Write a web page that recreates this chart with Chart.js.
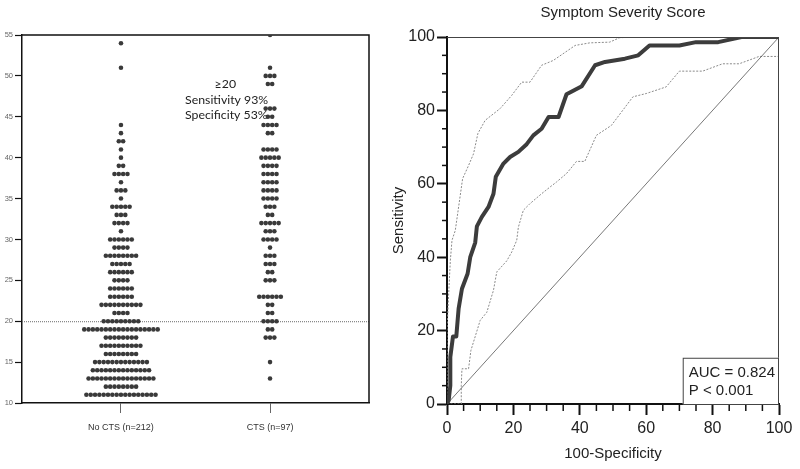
<!DOCTYPE html>
<html><head><meta charset="utf-8">
<script src="https://cdn.jsdelivr.net/npm/chart.js@4"></script>
<style>
html,body{margin:0;padding:0;background:#fff;width:800px;height:469px;overflow:hidden}
canvas{position:absolute;top:0}
#c1{left:0}
#c2{left:385px}
</style></head><body>
<canvas id="c1" width="385" height="469"></canvas>
<canvas id="c2" width="415" height="469"></canvas>
<script>
// ---------- Left panel data (dot plot) ----------
const groups = ['No CTS (n=212)', 'CTS (n=97)'];
const noCtsScores = [11,12,13,14,15,16,17,18,19,20,21,22,23,24,25,26,27,28,29,30,31,32,33,34,35,36,37,38,39,40,41,42,43,44,51,54];
const noCtsCounts = [17,8,16,14,13,8,10,8,18,9,4,10,6,6,4,6,5,8,4,6,1,4,3,5,1,3,1,4,2,1,1,2,1,1,1,1];
const ctsScores = [13,15,18,19,20,21,22,23,25,26,27,28,29,30,31,32,33,34,35,36,37,38,39,40,41,43,44,45,46,49,50,51,55];
const ctsCounts = [1,1,3,2,4,2,2,6,3,2,3,3,1,4,3,5,2,3,4,4,4,4,4,5,4,2,4,2,3,2,3,1,1];
const leftYTicks = [10,15,20,25,30,35,40,45,50,55];
const cutoff = 20;
const annotLines = ['\u226520', 'Sensitivity 93%', 'Specificity 53%'];

// ---------- Right panel data (ROC) ----------
const rocX = [0,0.5,1,1,1.8,2.8,3.5,4.5,6.2,7,8.5,9,10.5,12.5,14,14.7,17,19,21.5,24,26,28.5,30.6,33.6,36,40.6,44.6,47.6,53.6,57.6,61,70,75,81.7,88.7,100];
const rocY = [0,1,5,12.8,18.4,18.4,26,31.4,35.5,40,44,48.4,51,53.7,57.3,61.9,65.5,67.3,68.7,70.8,73.2,75,78.2,78.2,84.4,86.6,92.3,93.2,94.1,95,97.7,97.7,98.6,98.6,100,100];
const upperX = [0,0,0.5,1,1.5,2.5,3.5,4.7,6.5,8,9.3,11.5,16,19.5,22.5,25,28.5,32,38.6,43,49,52,56,100];
const upperY = [0,20,30,39,44.6,47.3,53.7,61.4,65,68.2,73.7,77.3,80.5,84.1,87.7,87.7,92.3,93.6,97.7,98.4,98.6,99.8,100,100];
const lowerX = [0,4.3,4.3,4.5,6.5,7.2,10,12,14,15,18,19.5,21,21.5,23,25,28.5,31,33,36,39,41.5,45,49.5,56,60,66,70,77,83,88,94,100,100];
const lowerY = [0,0,5,9.6,9.6,14.6,22.8,25,31,36,39,41.4,44.6,48.2,52.8,54.6,57.3,59.1,60.5,62.8,66.1,66.1,73.2,75.9,83.7,84.6,86.4,90.7,90.7,92.7,92.7,94.7,94.7,100];
const rocTicks = [0,20,40,60,80,100];
const aucText = ['AUC = 0.824', 'P < 0.001'];
const rocTitle = 'Symptom Severity Score';

// ---------- helpers ----------
const DOT_STEP = 0.029; // horizontal spacing between stacked dots (x units)
function swarm(scores, counts, gi){
  const pts = [];
  scores.forEach((s, k) => {
    const n = counts[k];
    for (let j = 0; j < n; j++) pts.push({x: gi + (j - (n - 1) / 2) * DOT_STEP, y: s});
  });
  return pts;
}
const zip = (xs, ys) => xs.map((x, i) => ({x, y: ys[i]}));
const SANS = 'Arial, "Liberation Sans", sans-serif';

// ---------- Left chart ----------
const leftDeco = {
  id: 'leftDeco',
  beforeDatasetsDraw(chart){
    const {ctx, chartArea: a, scales: {x, y}} = chart;
    ctx.save();
    const py = y.getPixelForValue(cutoff);
    ctx.strokeStyle = '#6a6a6a'; ctx.lineWidth = 1; ctx.setLineDash([1,1]);
    ctx.beginPath(); ctx.moveTo(a.left, py + 0.5); ctx.lineTo(a.right, py + 0.5); ctx.stroke();
    ctx.setLineDash([]);
    ctx.strokeStyle = '#111'; ctx.lineWidth = 1.5;
    ctx.beginPath(); ctx.moveTo(a.left, a.top); ctx.lineTo(a.right, a.top); ctx.lineTo(a.right, a.bottom); ctx.stroke();
    ctx.fillStyle = '#222'; ctx.font = '12.3px Lato, "Open Sans", sans-serif'; ctx.textBaseline = 'middle';
    ctx.textAlign = 'center';
    ctx.fillText(annotLines[0], x.getPixelForValue(0.70), y.getPixelForValue(49.0));
    ctx.textAlign = 'left';
    ctx.fillText(annotLines[1], x.getPixelForValue(0.43), y.getPixelForValue(47.0));
    ctx.fillText(annotLines[2], x.getPixelForValue(0.43), y.getPixelForValue(45.2));
    ctx.restore();
  }
};

new Chart(document.getElementById('c1'), {
  type: 'scatter',
  data: { datasets: [
    { data: swarm(noCtsScores, noCtsCounts, 0) },
    { data: swarm(ctsScores, ctsCounts, 1) }
  ]},
  options: {
    responsive: false, animation: false, devicePixelRatio: 1,
    layout: { padding: { top: 35, right: 16, left: 0, bottom: 0 } },
    elements: { point: { radius: 2.3, hoverRadius: 2.3, backgroundColor: '#3a3a3a', borderWidth: 0 } },
    plugins: { legend: { display: false }, tooltip: { enabled: false } },
    scales: {
      x: {
        type: 'linear', min: -0.664, max: 1.664,
        afterBuildTicks: s => { s.ticks = groups.map((g, i) => ({ value: i })); },
        afterFit: s => { s.height = 66; },
        ticks: { callback: v => groups[v], color: '#333', padding: 9, maxRotation: 0,
                 font: { family: '"Liberation Sans Narrow", "Arial Narrow", Arial, sans-serif', size: 9 } },
        grid: { drawOnChartArea: false, tickLength: 10, tickColor: '#666', tickWidth: 1 },
        border: { color: '#111', width: 1.5 }
      },
      y: {
        min: 10, max: 55,
        afterBuildTicks: s => { s.ticks = leftYTicks.map(v => ({ value: v })); },
        afterFit: s => { s.width = 22; },
        ticks: { color: '#666', padding: 2,
                 font: { family: '"Liberation Sans Narrow", "Arial Narrow", Arial, sans-serif', size: 7.5 } },
        grid: { drawOnChartArea: false, tickLength: 7, tickColor: '#111', tickWidth: 1.2 },
        border: { color: '#111', width: 1.5 }
      }
    }
  },
  plugins: [leftDeco]
});

// ---------- Right chart ----------
const rightDeco = {
  id: 'rightDeco',
  afterDraw(chart){
    const {ctx, chartArea: a, scales: {x, y}} = chart;
    ctx.save();
    ctx.strokeStyle = '#444'; ctx.lineWidth = 1;
    ctx.beginPath(); ctx.moveTo(a.left, a.top + 0.5); ctx.lineTo(a.right - 0.5, a.top + 0.5); ctx.lineTo(a.right - 0.5, a.bottom); ctx.stroke();
    ctx.strokeStyle = '#111'; ctx.lineWidth = 1.5;
    for (let v = 5; v < 100; v += 5) {
      if (v % 20 === 0) continue;
      const px = x.getPixelForValue(v);
      ctx.beginPath(); ctx.moveTo(px, a.bottom); ctx.lineTo(px, a.bottom + 7); ctx.stroke();
      const py = y.getPixelForValue(v);
      ctx.beginPath(); ctx.moveTo(a.left - 5, py); ctx.lineTo(a.left, py); ctx.stroke();
    }
    const bx0 = x.getPixelForValue(71.0), bx1 = x.getPixelForValue(100);
    const by0 = y.getPixelForValue(12.6), by1 = y.getPixelForValue(0);
    ctx.fillStyle = '#fff'; ctx.fillRect(bx0, by0, bx1 - bx0, by1 - by0);
    ctx.strokeStyle = '#444'; ctx.lineWidth = 1;
    ctx.strokeRect(bx0 + 0.5, by0 + 0.5, bx1 - bx0 - 1, by1 - by0);
    ctx.fillStyle = '#222'; ctx.font = '15px ' + SANS;
    ctx.textAlign = 'left'; ctx.textBaseline = 'middle';
    ctx.fillText(aucText[0], bx0 + 6, y.getPixelForValue(8.6));
    ctx.fillText(aucText[1], bx0 + 6, y.getPixelForValue(3.7));
    ctx.textAlign = 'center';
    ctx.font = '15px ' + SANS;
    ctx.fillText(rocTitle, x.getPixelForValue(53), 13);
    ctx.restore();
  }
};

const tickFont = { family: SANS, size: 16 };
const titleFont = { family: SANS, size: 15 };
new Chart(document.getElementById('c2'), {
  type: 'scatter',
  data: { datasets: [
    { data: zip(rocX, rocY), showLine: true, borderColor: '#3c3c3c', borderWidth: 4, pointRadius: 0, borderJoinStyle: 'round' },
    { data: zip([0,100],[0,100]), showLine: true, borderColor: '#555', borderWidth: 0.8, pointRadius: 0 },
    { data: zip(upperX, upperY), showLine: true, borderColor: '#8a8a8a', borderWidth: 1, borderDash: [2,1.5], pointRadius: 0 },
    { data: zip(lowerX, lowerY), showLine: true, borderColor: '#8a8a8a', borderWidth: 1, borderDash: [2,1.5], pointRadius: 0 }
  ]},
  options: {
    responsive: false, animation: false, devicePixelRatio: 1,
    layout: { padding: { top: 37, right: 21, left: 0, bottom: 0 } },
    plugins: { legend: { display: false }, tooltip: { enabled: false } },
    scales: {
      x: {
        type: 'linear', min: 0, max: 100,
        afterBuildTicks: s => { s.ticks = rocTicks.map(v => ({ value: v })); },
        afterFit: s => { s.height = 65; },
        ticks: { color: '#222', padding: 4, maxRotation: 0, font: tickFont },
        grid: { drawOnChartArea: false, tickLength: 11, tickColor: '#111', tickWidth: 2 },
        border: { color: '#111', width: 2 },
        title: { display: true, text: '100-Specificity', color: '#222', font: titleFont, padding: { top: 0, bottom: 6 } }
      },
      y: {
        min: 0, max: 100,
        afterBuildTicks: s => { s.ticks = rocTicks.map(v => ({ value: v })); },
        afterFit: s => { s.width = 62; },
        ticks: { color: '#222', padding: 2, font: tickFont },
        grid: { drawOnChartArea: false, tickLength: 10, tickColor: '#111', tickWidth: 2 },
        border: { color: '#111', width: 2 },
        title: { display: true, text: 'Sensitivity', color: '#222', font: titleFont, padding: { top: 5, bottom: 0 } }
      }
    }
  },
  plugins: [rightDeco]
});
</script>
</body></html>
